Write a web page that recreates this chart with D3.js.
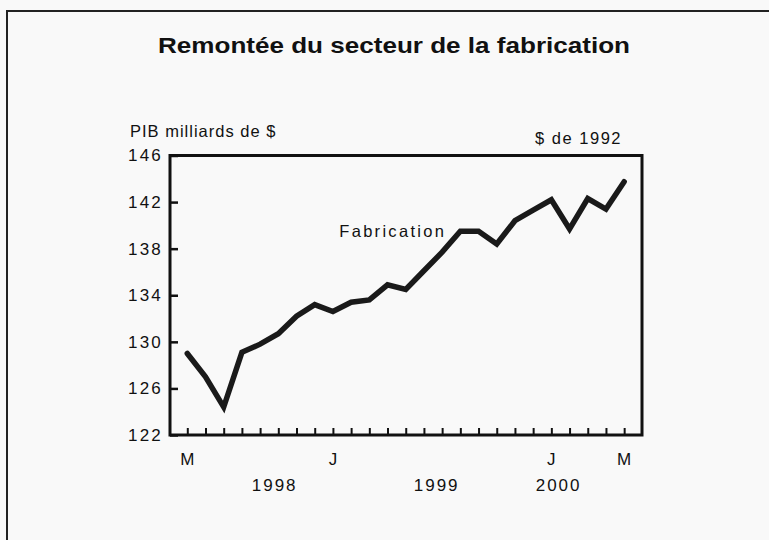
<!DOCTYPE html>
<html>
<head>
<meta charset="utf-8">
<script src="https://cdn.jsdelivr.net/npm/d3@7"></script>
<style>
  body { margin: 0; background: #f9f9f9; }
  svg { display: block; }
  text { font-family: "Liberation Sans", Arial, sans-serif; fill: #111; }
</style>
</head>
<body>
<svg id="chart" width="769" height="540"></svg>
<script>
// DATA
var months = d3.range(0, 25); // mai 1998 .. mai 2000
var fabrication = [129.0, 127.0, 124.4, 129.1, 129.8, 130.7, 132.2, 133.2, 132.6, 133.4,
                   133.6, 134.9, 134.5, 136.1, 137.7, 139.5, 139.5, 138.4, 140.4, 141.3,
                   142.2, 139.7, 142.3, 141.4, 143.75];
var yTicks = [122, 126, 130, 134, 138, 142, 146];
var monthLabels = [{i: 0, t: "M"}, {i: 8, t: "J"}, {i: 20, t: "J"}, {i: 24, t: "M"}];
var yearLabels = [{i: 4.8, t: "1998"}, {i: 13.7, t: "1999"}, {i: 20.4, t: "2000"}];

// LAYOUT
var margin = {left: 170, top: 155.5, right: 127, bottom: 105};
var W = 769, H = 540;
var width = W - margin.left - margin.right;
var height = H - margin.top - margin.bottom;

var svg = d3.select("#chart");

// outer frame (runs off the right/bottom edge)
svg.append("rect")
  .attr("x", 7).attr("y", 11)
  .attr("width", 800).attr("height", 600)
  .attr("fill", "#f9f9f9")
  .attr("stroke", "#222").attr("stroke-width", 2);

// title - reference glyphs are a bit wide, stretch to its measured width
svg.append("text")
  .attr("x", 158).attr("y", 53)
  .attr("textLength", 472).attr("lengthAdjust", "spacingAndGlyphs")
  .style("font-size", "22px").style("font-weight", "bold")
  .text("Remontée du secteur de la fabrication");

var g = svg.append("g").attr("transform", "translate(" + margin.left + "," + margin.top + ")");

var x = d3.scaleLinear().domain([-0.95, 24.98]).range([0, width]);
var y = d3.scaleLinear().domain([122, 146]).range([height, 0]);

// plot box
g.append("rect")
  .attr("x", 0).attr("y", 0)
  .attr("width", width).attr("height", height)
  .attr("fill", "none")
  .attr("stroke", "#111").attr("stroke-width", 3);

// Y AXIS (ticks point inward)
var yAxis = g.append("g")
  .call(d3.axisLeft(y).tickValues(yTicks).tickSize(-8).tickPadding(7));
yAxis.select(".domain").remove();
yAxis.selectAll("line").attr("stroke", "#111").attr("stroke-width", 2.5);
yAxis.selectAll("text")
  .style("font-size", "17px").style("letter-spacing", "2.2px")
  .style("font-family", "Liberation Sans, Arial, sans-serif").attr("fill", "#111");

// X AXIS (monthly ticks pointing up)
var xAxis = g.append("g")
  .attr("transform", "translate(0," + height + ")")
  .call(d3.axisBottom(x).tickValues(months).tickSize(-7).tickFormat(""));
xAxis.select(".domain").remove();
xAxis.selectAll("line").attr("stroke", "#111").attr("stroke-width", 2);

g.selectAll(".mlab").data(monthLabels).enter().append("text")
  .attr("class", "mlab")
  .attr("x", function(d){ return x(d.i); })
  .attr("y", height + 30)
  .attr("text-anchor", "middle")
  .style("font-size", "17px")
  .text(function(d){ return d.t; });

g.selectAll(".ylab").data(yearLabels).enter().append("text")
  .attr("class", "ylab")
  .attr("x", function(d){ return x(d.i); })
  .attr("y", height + 56)
  .attr("text-anchor", "middle")
  .style("font-size", "17px").style("letter-spacing", "2px")
  .text(function(d){ return d.t; });

// SERIES
var line = d3.line()
  .x(function(d, i){ return x(months[i]); })
  .y(function(d){ return y(d); });

g.append("path")
  .datum(fabrication)
  .attr("d", line)
  .attr("fill", "none")
  .attr("stroke", "#1a1a1a")
  .attr("stroke-width", 5.5)
  .attr("stroke-linejoin", "miter")
  .attr("stroke-linecap", "round");

// LABELS
svg.append("text")
  .attr("x", 130).attr("y", 137)
  .style("font-size", "16.5px").style("letter-spacing", "1px")
  .text("PIB milliards de $");

svg.append("text")
  .attr("x", 622).attr("y", 144)
  .attr("text-anchor", "end")
  .style("font-size", "16.5px").style("letter-spacing", "1.5px")
  .text("$ de 1992");

g.append("text")
  .attr("x", x(8.35)).attr("y", y(139.0))
  .style("font-size", "16.5px").style("letter-spacing", "2.3px")
  .text("Fabrication");
</script>
</body>
</html>
